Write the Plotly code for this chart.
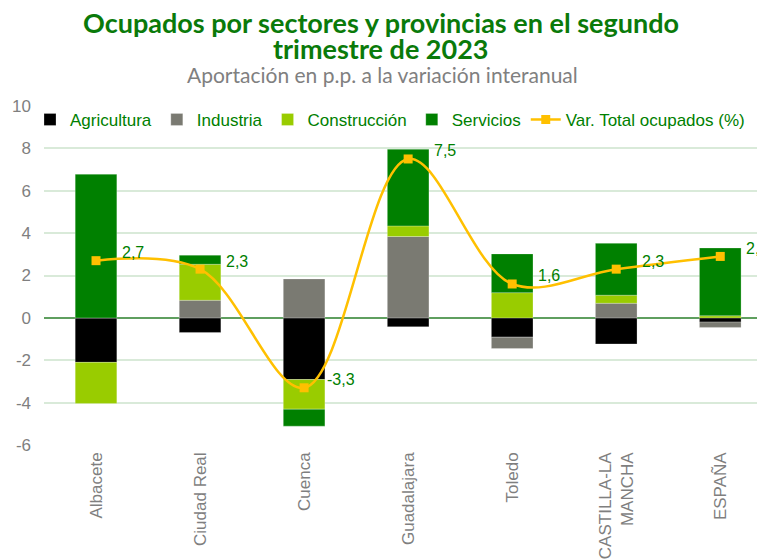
import plotly.graph_objects as go

categories = ["Albacete", "Ciudad Real", "Cuenca", "Guadalajara", "Toledo", "CASTILLA-LA<br>MANCHA", "ESPAÑA"]
agricultura = [-2.10, -0.69, -2.91, -0.42, -0.91, -1.23, -0.20]
industria = [0.00, 0.83, 1.84, 3.84, -0.54, 0.69, -0.25]
construccion = [-1.94, 1.70, -1.40, 0.50, 1.19, 0.38, 0.10]
servicios = [6.78, 0.43, -0.80, 3.62, 1.83, 2.45, 3.20]
total = [2.7, 2.3, -3.3, 7.5, 1.6, 2.3, 2.9]
total_labels = ["2,7", "2,3", "-3,3", "7,5", "1,6", "2,3", "2,9"]
y_ticks = [-6, -4, -2, 0, 2, 4, 6, 8, 10]
title_lines = ["Ocupados por sectores y provincias en el segundo", "trimestre de 2023"]
subtitle = "Aportación en p.p. a la variación interanual"

GREEN = "#008000"
GREY_TXT = "#7f7f7f"
FONT = "Liberation Sans, Arial"

fig = go.Figure()
series = [
    ("Agricultura", agricultura, "#000000"),
    ("Industria", industria, "#7a7a72"),
    ("Construcción", construccion, "#99cc00"),
    ("Servicios", servicios, GREEN),
]
for name, vals, col in series:
    fig.add_trace(go.Bar(
        x=categories, y=vals, name=name, width=0.4,
        marker=dict(color=col, line=dict(color="rgba(255,255,255,0.5)", width=0.5)),
    ))

fig.add_trace(go.Scatter(
    x=categories, y=total, name="Var. Total ocupados (%)",
    mode="lines+markers", line=dict(color="#FFC000", width=2.5, shape="spline", smoothing=1.0),
    marker=dict(symbol="square", size=9, color="#FFC000"),
))

for c, v, t in zip(categories, total, total_labels):
    fig.add_annotation(x=c, y=v, text=t, showarrow=False, xshift=37, yshift=8,
                       font=dict(family=FONT, size=16, color=GREEN))

for line, ys in zip(title_lines, [84, 58]):
    fig.add_annotation(text="<b>" + line + "</b>", xref="paper", yref="paper", x=0.467, y=1.0,
                       yshift=ys, yanchor="middle", showarrow=False,
                       font=dict(family="Lato", size=27, color="#0a7a0a"))
fig.add_annotation(text=subtitle, xref="paper", yref="paper",
                   x=0.469, y=1.0, yshift=32, showarrow=False, yanchor="middle",
                   font=dict(family="Lato", size=21, color="#808080"))

fig.update_layout(
    width=757, height=551,
    margin=dict(l=36, r=0, t=98, b=114),
    paper_bgcolor="white", plot_bgcolor="white",
    barmode="relative",
    showlegend=True,
    legend=dict(orientation="h", x=-0.0194, y=1.012, xanchor="left", yanchor="top",
                bgcolor="rgba(0,0,0,0)", traceorder="normal",
                font=dict(family=FONT, size=17, color=GREEN),
                itemwidth=30, tracegroupgap=0),
    xaxis=dict(range=[-0.5, 6.43], tickangle=-90, showgrid=False, showline=False, ticks="",
               ticklabelstandoff=3,
               tickfont=dict(family=FONT, size=17, color=GREY_TXT)),
    yaxis=dict(range=[-6, 10], tickvals=y_ticks, ticktext=[str(v) for v in y_ticks],
               showgrid=True, gridcolor="#d9ead9", gridwidth=1.5,
               zeroline=True, zerolinecolor="#5f9f5f", zerolinewidth=2,
               ticks="", ticklabelstandoff=12,
               tickfont=dict(family=FONT, size=17, color=GREY_TXT)),
)

fig.write_html("out.html")
